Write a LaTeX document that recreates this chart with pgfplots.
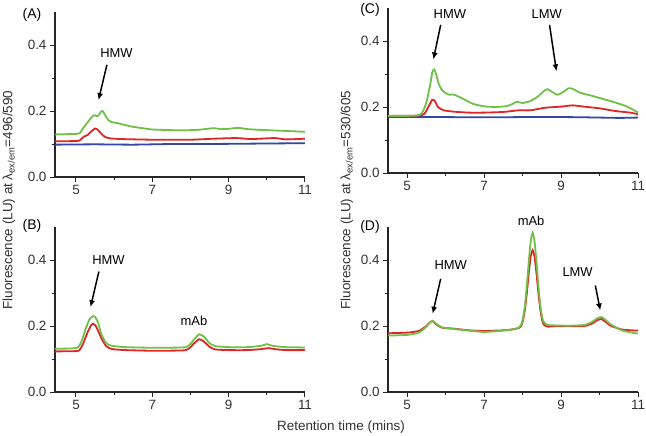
\documentclass[border=0pt]{standalone}
\usepackage{fontspec}
\setmainfont{Liberation Sans}
\usepackage{pgfplots}
\pgfplotsset{compat=1.18}
\usetikzlibrary{arrows.meta}

\definecolor{cgreen}{RGB}{112,192,72}
\definecolor{cred}{RGB}{222,38,38}
\definecolor{cblue}{RGB}{48,72,168}
\definecolor{tickgray}{RGB}{50,50,50}

\pgfplotsset{
  panel/.style={
    scale only axis, width=250bp, height=165bp,
    ymin=0, ymax=0.5, xmax=11,
    axis x line=bottom, axis y line=left,
    axis line style={-, line width=1.1bp, black!85},
    tick align=outside,
    major tick length=5bp, minor tick length=3bp,
    every tick/.style={line width=1bp, black!85},
    xtick={5,7,9,11}, minor xtick={6,8,10},
    ytick={0,0.2,0.4}, minor ytick={0.1,0.3},
    yticklabel style={/pgf/number format/.cd, fixed, fixed zerofill, precision=1},
    /pgf/number format/assume math mode=true,
    tick label style={font=\fontsize{13.5}{15}\selectfont, text=tickgray},
    clip=false,
    every axis plot/.append style={line width=1.8bp, smooth, tension=0.35},
  },
}
\tikzset{
  ann/.style={font=\fontsize{13}{15}\selectfont},
  arr/.style={-{Latex[length=7bp,width=6bp]}, line width=1.5bp},
  plab/.style={font=\fontsize{14}{16}\selectfont},
}

\begin{document}
\begin{tikzpicture}
\useasboundingbox (0,0) rectangle (646bp,-436bp);

% (A)
\begin{axis}[panel, xmin=4.45, at={(55bp,-177bp)}, anchor=south west]
  \addplot[cblue] coordinates {(4.45,0.098) (5.5,0.099) (6.5,0.098) (7.5,0.100) (8.5,0.100) (9.5,0.101) (10.5,0.102) (11,0.102)};
  \addplot[cred] coordinates {(4.45,0.108) (5.0,0.109) (5.1,0.111) (5.2,0.122) (5.3,0.127) (5.4,0.138) (5.5,0.147) (5.55,0.145) (5.65,0.133) (5.75,0.122) (5.9,0.117) (6.2,0.115) (7.0,0.113) (8.0,0.113) (8.6,0.116) (9.2,0.118) (9.6,0.115) (10.2,0.118) (10.5,0.114) (11,0.116)};
  \addplot[cgreen] coordinates {(4.45,0.129) (4.8,0.130) (5.05,0.131) (5.1,0.133) (5.2,0.150) (5.3,0.165) (5.4,0.180) (5.45,0.186) (5.5,0.187) (5.55,0.184) (5.6,0.188) (5.65,0.198) (5.7,0.200) (5.75,0.190) (5.85,0.172) (5.95,0.166) (6.1,0.163) (6.3,0.157) (6.5,0.152) (6.8,0.147) (7.0,0.144) (7.5,0.142) (8.0,0.142) (8.3,0.144) (8.6,0.148) (8.8,0.145) (9.0,0.146) (9.25,0.149) (9.5,0.145) (9.8,0.143) (10.2,0.141) (10.6,0.139) (11.0,0.137)};
  \node[ann] at (axis cs:6.06,0.375) {HMW};
  \draw[arr] (axis cs:5.81,0.34) -- (axis cs:5.59,0.233);
\end{axis}

% (B)
\begin{axis}[panel, xmin=4.45, at={(55bp,-392bp)}, anchor=south west]
  \addplot[cred] coordinates {(4.45,0.123) (5.0,0.124) (5.1,0.128) (5.2,0.150) (5.3,0.180) (5.4,0.203) (5.45,0.207) (5.52,0.200) (5.6,0.180) (5.7,0.155) (5.8,0.138) (5.95,0.130) (6.3,0.127) (7.0,0.125) (7.8,0.126) (7.95,0.131) (8.1,0.148) (8.23,0.160) (8.35,0.153) (8.5,0.137) (8.65,0.129) (9.0,0.127) (9.5,0.127) (9.85,0.130) (10.05,0.133) (10.2,0.130) (10.5,0.127) (11.0,0.127)};
  \addplot[cgreen] coordinates {(4.45,0.131) (4.9,0.132) (5.05,0.135) (5.15,0.155) (5.25,0.190) (5.35,0.220) (5.45,0.230) (5.5,0.228) (5.58,0.210) (5.65,0.180) (5.75,0.155) (5.85,0.143) (6.0,0.139) (6.3,0.136) (7.0,0.134) (7.8,0.135) (7.95,0.140) (8.1,0.160) (8.23,0.175) (8.35,0.168) (8.5,0.148) (8.65,0.139) (9.0,0.136) (9.5,0.136) (9.85,0.140) (10.0,0.145) (10.15,0.140) (10.5,0.136) (11.0,0.135)};
  \node[ann] at (axis cs:5.85,0.40) {HMW};
  \draw[arr] (axis cs:5.6,0.365) -- (axis cs:5.38,0.257);
  \node[ann] at (axis cs:8.09,0.217) {mAb};
\end{axis}

% (C)
\begin{axis}[panel, xmin=4.5, at={(388bp,-173bp)}, anchor=south west]
  \addplot[cblue] coordinates {(4.5,0.170) (5.5,0.170) (6.5,0.169) (7.5,0.169) (8.5,0.170) (9.5,0.169) (10.5,0.167) (11.0,0.168)};
  \addplot[cred] coordinates {(4.5,0.173) (5.3,0.174) (5.45,0.180) (5.55,0.200) (5.65,0.222) (5.72,0.218) (5.8,0.200) (5.95,0.190) (6.2,0.186) (6.6,0.183) (7.0,0.183) (7.5,0.185) (7.9,0.190) (8.2,0.190) (8.6,0.198) (9.0,0.201) (9.3,0.205) (9.6,0.201) (10.0,0.196) (10.4,0.188) (10.8,0.183) (11.0,0.178)};
  \addplot[cgreen] coordinates {(4.5,0.173) (5.0,0.173) (5.3,0.175) (5.4,0.185) (5.5,0.215) (5.6,0.270) (5.65,0.305) (5.7,0.314) (5.75,0.300) (5.82,0.270) (5.9,0.252) (6.0,0.242) (6.1,0.237) (6.2,0.238) (6.4,0.228) (6.7,0.210) (7.0,0.202) (7.3,0.200) (7.6,0.203) (7.75,0.210) (7.85,0.216) (8.0,0.212) (8.2,0.218) (8.4,0.232) (8.55,0.248) (8.65,0.254) (8.75,0.247) (8.9,0.237) (9.05,0.245) (9.2,0.257) (9.3,0.255) (9.5,0.243) (9.8,0.234) (10.1,0.224) (10.4,0.214) (10.7,0.202) (10.9,0.190) (11.0,0.183)};
  \node[ann] at (axis cs:6.11,0.482) {HMW};
  \draw[arr] (axis cs:5.87,0.449) -- (axis cs:5.68,0.344);
  \node[ann] at (axis cs:8.63,0.482) {LMW};
  \draw[arr] (axis cs:8.70,0.449) -- (axis cs:8.88,0.308);
\end{axis}

% (D)
\begin{axis}[panel, xmin=4.5, at={(388bp,-392bp)}, anchor=south west]
  \addplot[cred] coordinates {(4.5,0.178) (5.0,0.180) (5.3,0.185) (5.5,0.200) (5.6,0.212) (5.66,0.215) (5.75,0.205) (5.9,0.195) (6.2,0.192) (6.6,0.187) (7.0,0.185) (7.5,0.187) (7.75,0.190) (7.9,0.194) (7.96,0.199) (8.01,0.217) (8.06,0.250) (8.11,0.300) (8.16,0.360) (8.21,0.410) (8.26,0.430) (8.31,0.410) (8.36,0.360) (8.41,0.300) (8.46,0.250) (8.51,0.217) (8.56,0.203) (8.66,0.198) (8.8,0.199) (9.2,0.199) (9.6,0.200) (9.8,0.207) (9.95,0.218) (10.05,0.221) (10.15,0.213) (10.3,0.200) (10.6,0.189) (11.0,0.186)};
  \addplot[cgreen] coordinates {(4.5,0.171) (5.0,0.173) (5.3,0.180) (5.5,0.198) (5.6,0.212) (5.66,0.216) (5.75,0.207) (5.9,0.196) (6.2,0.191) (6.6,0.186) (7.0,0.182) (7.5,0.186) (7.75,0.190) (7.9,0.195) (7.96,0.203) (8.01,0.223) (8.06,0.262) (8.11,0.323) (8.16,0.395) (8.21,0.456) (8.26,0.483) (8.31,0.456) (8.36,0.395) (8.41,0.323) (8.46,0.262) (8.51,0.225) (8.56,0.210) (8.66,0.203) (8.8,0.202) (9.2,0.201) (9.6,0.203) (9.8,0.212) (9.95,0.224) (10.05,0.227) (10.15,0.219) (10.3,0.204) (10.6,0.186) (11.0,0.177)};
  \node[ann] at (axis cs:6.13,0.384) {HMW};
  \draw[arr] (axis cs:5.87,0.343) -- (axis cs:5.66,0.237);
  \node[ann] at (axis cs:8.22,0.52) {mAb};
  \node[ann] at (axis cs:9.43,0.364) {LMW};
  \draw[arr] (axis cs:9.89,0.323) -- (axis cs:10.02,0.247);
\end{axis}

% panel letters and shared labels
\node[plab] at (32bp,-15bp) {(A)};
\node[plab] at (32bp,-226bp) {(B)};
\node[plab] at (370bp,-10bp) {(C)};
\node[plab] at (370bp,-227bp) {(D)};
\node[rotate=90, font=\fontsize{13.5}{15}\selectfont, text=tickgray] at (9bp,-200bp)
  {Fluorescence (LU) at λ\textsubscript{ex/em}=496/590};
\node[rotate=90, font=\fontsize{13.5}{15}\selectfont, text=tickgray] at (347bp,-200bp)
  {Fluorescence (LU) at λ\textsubscript{ex/em}=530/605};
\node[font=\fontsize{13.5}{15}\selectfont, text=tickgray] at (341bp,-427bp) {Retention time (mins)};
\end{tikzpicture}
\end{document}
